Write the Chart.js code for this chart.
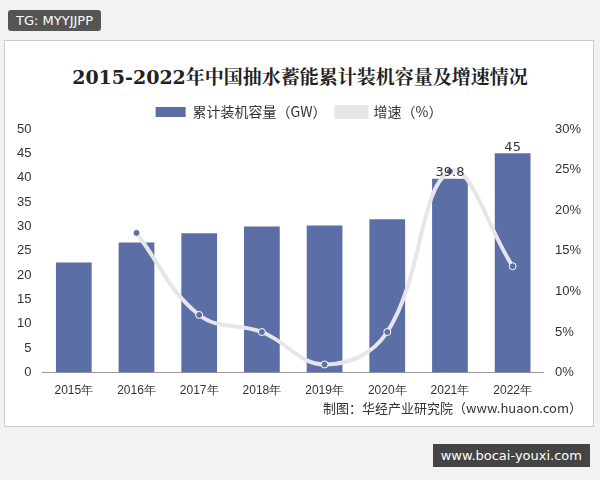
<!DOCTYPE html>
<html><head><meta charset="utf-8">
<script src="https://cdn.jsdelivr.net/npm/chart.js@4"></script>
<style>
body{margin:0;width:600px;height:480px;background:#f2f2f2;font-family:"Noto Sans CJK SC","Noto Sans",sans-serif;position:relative;overflow:hidden}
#card{position:absolute;left:4px;top:40px;width:588px;height:385px;border:1px solid #ccc;background:#fff}
#tg{position:absolute;left:8px;top:10px;background:#555;color:#fff;font:13px "DejaVu Sans";padding:3px 8px;border-radius:3px}
#title{position:absolute;left:0;top:62px;width:600px;text-align:center;font:bold 19px "DejaVu Serif","Noto Serif CJK SC","Noto Sans CJK SC";color:#222}
#wrap{position:absolute;left:8px;top:95px;width:582px;height:306px}
#src{position:absolute;right:18px;top:398px;font:13px "Noto Sans CJK SC";color:#333}
#wm{position:absolute;right:10px;top:444px;background:#444;color:#fff;font:13px "DejaVu Sans";padding:4px 8px}
</style></head><body>
<div id="tg">TG: MYYJJPP</div>
<div id="card"></div>
<div id="title">2015-2022年中国抽水蓄能累计装机容量及增速情况</div>
<div id="wrap"><canvas id="c"></canvas></div>
<div id="src">制图：华经产业研究院（www.huaon.com）</div>
<div id="wm">www.bocai-youxi.com</div>
<script>
const categories=["2015年","2016年","2017年","2018年","2019年","2020年","2021年","2022年"];
const capacity=[22.6,26.7,28.6,30,30.2,31.5,39.8,45];
const growth=[null,17.2,7.1,5.0,1.0,5.0,24.8,13.1];
const barLabels=[null,null,null,null,null,null,"39.8","45"];
new Chart(document.getElementById('c'),{
data:{labels:categories,datasets:[
{type:'bar',label:'累计装机容量（GW）',data:capacity,yAxisID:'y',backgroundColor:'#5b6ea6',barPercentage:0.6,categoryPercentage:0.95,order:1},
{type:'line',label:'增速（%）',data:growth,yAxisID:'y1',borderColor:'#e6e6ea',borderWidth:4,tension:0.4,pointRadius:3.5,pointBackgroundColor:'#5f6f9f',pointBorderColor:'#fff',pointBorderWidth:1,order:0}
]},
options:{responsive:true,maintainAspectRatio:false,animation:false,
layout:{padding:{left:6,right:6,top:0,bottom:0}},
plugins:{legend:{position:'top',labels:{font:{size:14,family:'Noto Sans CJK SC'},color:'#333',boxWidth:30,boxHeight:10,sort:(a,b)=>a.datasetIndex-b.datasetIndex}},tooltip:{enabled:false}},
scales:{
x:{grid:{display:false},border:{color:'#999'},ticks:{color:'#333',font:{size:12}}},
y:{min:0,max:50,ticks:{stepSize:5,color:'#333',font:{size:13}},grid:{display:false},border:{display:false}},
y1:{position:'right',min:0,max:30,ticks:{stepSize:5,callback:v=>v+'%',color:'#333',font:{size:13}},grid:{display:false},border:{display:false}}
}},
plugins:[{id:'lbl',afterDatasetsDraw(ch){const ctx=ch.ctx;const m=ch.getDatasetMeta(0);ctx.save();ctx.font='13px "DejaVu Sans"';ctx.fillStyle='#333';ctx.textAlign='center';
m.data.forEach((b,i)=>{if(barLabels[i])ctx.fillText(barLabels[i],b.x,b.y-6);});ctx.restore();}}]
});
</script></body></html>
